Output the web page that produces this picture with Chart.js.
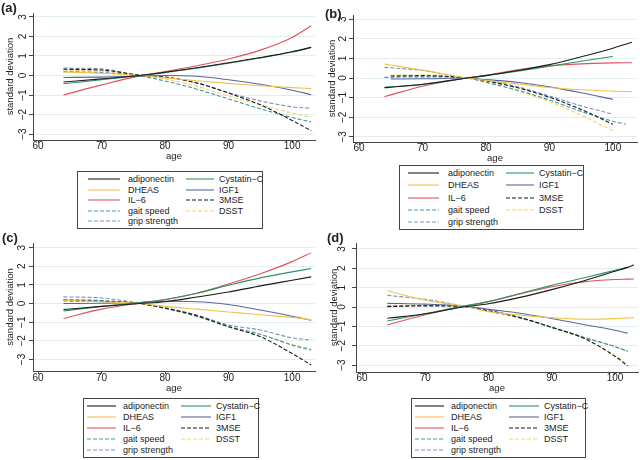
<!DOCTYPE html>
<html>
<head>
<meta charset="utf-8">
<script src="https://cdn.jsdelivr.net/npm/chart.js@4.4.0/dist/chart.umd.min.js"></script>
<style>
html,body{margin:0;padding:0;background:#fff;}
#wrap{position:relative;width:640px;height:460px;overflow:hidden;font-family:"Liberation Sans",Arial,sans-serif;color:#222;}
#wrap canvas{position:absolute;}
.tag{position:absolute;font-weight:bold;font-size:13px;line-height:13px;}
.legend{position:absolute;border:1px solid #444;box-sizing:border-box;background:#fff;}
.legend .it{position:absolute;font-size:9px;line-height:10px;white-space:nowrap;color:#222;}
.legend svg{position:absolute;overflow:visible;}
</style>
</head>
<body>
<div id="wrap"></div>
<script>
/* series shared by all four panels (legend order, row by row) */
const seriesNames  = ['adiponectin', 'Cystatin\u2212C', 'DHEAS', 'IGF1', 'IL\u22126', '3MSE', 'gait speed', 'DSST', 'grip strength'];
const seriesColors = ['#1b1b1b', '#2f9468', '#f0c44c', '#56679e', '#e2525c', '#1b1b1b', '#3e9aa0', '#f3d36a', '#7b8fbf'];
const seriesDashed = [false, false, false, false, false, true, true, true, true];

const xTicks = [60, 70, 80, 90, 100];
const yTicks = [-3, -2, -1, 0, 1, 2, 3];

/* panel (a) */
const agesA        = [64, 70, 76, 80, 85, 90, 95, 100, 103];
const adiponectinA = [-0.33, -0.17, 0.0, 0.17, 0.4, 0.65, 0.92, 1.22, 1.44];
const cystatinA    = [-0.42, -0.22, 0.0, 0.15, 0.38, 0.63, 0.9, 1.2, 1.43];
const dheasA       = [0.18, 0.12, 0.0, -0.12, -0.27, -0.4, -0.52, -0.62, -0.67];
const igf1A        = [-0.1, -0.08, -0.03, 0.0, -0.04, -0.22, -0.45, -0.75, -0.98];
const il6A         = [-1.0, -0.48, -0.02, 0.2, 0.5, 0.85, 1.3, 1.95, 2.55];
const mseA         = [0.32, 0.28, 0.02, -0.08, -0.38, -0.9, -1.5, -2.3, -2.83];
const gaitA        = [0.2, 0.15, -0.02, -0.28, -0.7, -1.2, -1.7, -2.15, -2.38];
const dsstA        = [0.28, 0.22, 0.0, -0.18, -0.55, -1.05, -1.5, -1.92, -2.14];
const gripA        = [0.38, 0.34, 0.0, -0.08, -0.38, -0.88, -1.3, -1.6, -1.68];

/* panel (b) */
const agesB        = [64, 65, 70, 77, 80, 85, 90, 95, 100, 102, 103];
const adiponectinB = [-0.5, -0.47, -0.33, 0.0, 0.12, 0.38, 0.68, 1.08, 1.52, 1.72, 1.82];
const cystatinB    = [-0.47, -0.45, -0.32, 0.0, 0.12, 0.35, 0.6, 0.85, 1.1, null, null];
const dheasB       = [0.71, 0.66, 0.4, 0.0, -0.12, -0.3, -0.48, -0.6, -0.67, -0.69, -0.7];
const igf1B        = [null, -0.05, -0.04, 0.0, -0.08, -0.22, -0.45, -0.75, -1.09, null, null];
const il6B         = [-0.95, -0.86, -0.42, 0.0, 0.14, 0.42, 0.62, 0.72, 0.77, 0.78, 0.78];
const mseB         = [null, 0.1, 0.12, 0.0, -0.15, -0.5, -0.98, -1.6, -2.36, null, null];
const gaitB        = [0.03, 0.04, 0.06, 0.0, -0.22, -0.62, -1.12, -1.7, -2.2, -2.35, null];
const dsstB        = [null, 0.15, 0.15, 0.0, -0.22, -0.65, -1.2, -1.9, -2.69, null, null];
const gripB        = [0.54, 0.52, 0.38, 0.0, -0.12, -0.45, -0.92, -1.42, -1.85, null, null];

/* panel (c) */
const agesC        = [64, 70, 76, 80, 85, 90, 95, 100, 103];
const adiponectinC = [-0.32, -0.15, 0.0, 0.1, 0.35, 0.62, 0.95, 1.25, 1.43];
const cystatinC    = [-0.4, -0.15, 0.05, 0.22, 0.55, 0.98, 1.38, 1.7, 1.88];
const dheasC       = [0.18, 0.1, 0.0, -0.15, -0.3, -0.45, -0.6, -0.75, -0.86];
const igf1C        = [0.0, 0.02, 0.06, 0.12, 0.1, -0.05, -0.35, -0.68, -0.9];
const il6C         = [-0.8, -0.3, 0.02, 0.2, 0.55, 1.05, 1.6, 2.25, 2.72];
const mseC         = [0.15, 0.12, 0.0, -0.25, -0.65, -1.25, -1.78, -2.68, -3.3];
const gaitC        = [0.22, 0.16, 0.0, -0.25, -0.68, -1.22, -1.65, -2.23, -2.5];
const dsstC        = [0.2, 0.15, 0.0, -0.28, -0.7, -1.25, -1.65, -2.2, -2.42];
const gripC        = [0.36, 0.3, 0.02, -0.22, -0.62, -1.15, -1.42, -1.84, -1.96];

/* panel (d) */
const agesD        = [64, 70, 76, 80, 85, 90, 95, 100, 102, 103];
const adiponectinD = [-0.58, -0.35, 0.0, 0.17, 0.5, 0.9, 1.35, 1.85, 2.05, 2.17];
const cystatinD    = [-0.72, -0.35, 0.05, 0.28, 0.7, 1.12, 1.5, 1.9, 2.06, null];
const dheasD       = [0.84, 0.35, 0.05, -0.24, -0.42, -0.55, -0.63, -0.6, -0.56, -0.55];
const igf1D        = [0.19, 0.15, 0.05, -0.12, -0.32, -0.59, -0.9, -1.2, -1.36, null];
const il6D         = [-0.93, -0.4, 0.03, 0.28, 0.68, 1.05, 1.3, 1.42, 1.44, 1.45];
const mseD         = [0.02, 0.06, 0.03, -0.2, -0.55, -1.05, -1.6, -2.55, -3.05, null];
const gaitD        = [0.05, 0.08, 0.02, -0.2, -0.55, -1.05, -1.58, -2.05, -2.3, null];
const dsstD        = [0.08, 0.1, 0.03, -0.22, -0.58, -1.08, -1.62, -2.5, -2.98, null];
const gripD        = [0.6, 0.4, 0.05, -0.15, -0.55, -1.05, -1.55, -2.05, -2.28, null];

const FONT = '"Liberation Sans", Arial, sans-serif';

/* layout of each panel: canvas box, plot area inside canvas, axis ranges, legend box */
const panels = [
  { tag:'(a)', tagPos:[1, 1], ages:agesA,
    values:[adiponectinA, cystatinA, dheasA, igf1A, il6A, mseA, gaitA, dsstA, gripA],
    box:{x:0, y:0, w:320, h:162}, area:{l:33, t:13, r:315, b:140},
    xr:[59.2, 103.6], yr:[-3.3, 3.2], yLab:10, yTitlePad:4.6, xLabPad:-2.3,
    legend:{x:77, y:171, w:186, h:58, c1:[10, 42, 50], c2:[108, 136, 141]} },
  { tag:'(b)', tagPos:[325, 6.5], ages:agesB,
    values:[adiponectinB, cystatinB, dheasB, igf1B, il6B, mseB, gaitB, dsstB, gripB],
    box:{x:320, y:0, w:320, h:164}, area:{l:33, t:15, r:317, b:142},
    xr:[59.05, 103.8], yr:[-3.26, 3.21], yLab:10, yTitlePad:6.3, xLabPad:-2.7,
    legend:{x:399, y:165, w:185, h:65, c1:[8, 39, 48], c2:[106, 134, 139]} },
  { tag:'(c)', tagPos:[2, 230.5], ages:agesC,
    values:[adiponectinC, cystatinC, dheasC, igf1C, il6C, mseC, gaitC, dsstC, gripC],
    box:{x:0, y:230, w:320, h:164}, area:{l:33, t:13, r:315, b:141},
    xr:[59.2, 103.6], yr:[-3.62, 3.25], yLab:10.3, yTitlePad:4.6, xLabPad:-2,
    legend:{x:83, y:398, w:176, h:60, c1:[3, 32, 39], c2:[97, 127, 132]} },
  { tag:'(d)', tagPos:[327, 230.5], ages:agesD,
    values:[adiponectinD, cystatinD, dheasD, igf1D, il6D, mseD, gaitD, dsstD, gripD],
    box:{x:320, y:230, w:320, h:164}, area:{l:36, t:13, r:318, b:142},
    xr:[59.05, 103.64], yr:[-3.36, 3.31], yLab:13.3, yTitlePad:8.6, xLabPad:-3,
    legend:{x:411, y:398, w:175, h:60, c1:[3, 32, 39], c2:[97, 127, 132]} }
];

function fmtY(v){ return v < 0 ? '\u2212' + Math.abs(v) : String(v); }

/* y tick labels are rotated (reading upwards), so they are drawn here from the y scale */
const yLabelPlugin = {
  id: 'yLabels',
  afterDraw(chart, args, opts){
    const s = chart.scales.y, ctx = chart.ctx;
    ctx.save();
    ctx.font = '10px ' + FONT;
    ctx.fillStyle = '#222';
    ctx.textAlign = 'center';
    ctx.textBaseline = 'middle';
    s.ticks.forEach(t => {
      const y = s.getPixelForValue(t.value);
      ctx.save();
      ctx.translate(chart.chartArea.left - opts.offset, y);
      ctx.rotate(-Math.PI / 2);
      ctx.fillText(fmtY(t.value), 0, 0);
      ctx.restore();
    });
    ctx.restore();
  }
};

const wrap = document.getElementById('wrap');

function buildLegend(p){
  const L = p.legend;
  const div = document.createElement('div');
  div.className = 'legend';
  Object.assign(div.style, {left:L.x+'px', top:L.y+'px', width:L.w+'px', height:L.h+'px'});
  const pad = 7, step = (L.h - 2 - 2*pad) / 4;
  seriesNames.forEach((name, i) => {
    const row = Math.floor(i / 2), col = i % 2 ? L.c2 : L.c1;
    const cy = pad + row * step;
    const len = col[1] - col[0];
    const svg = document.createElementNS('http://www.w3.org/2000/svg', 'svg');
    svg.setAttribute('width', len); svg.setAttribute('height', 2);
    svg.style.left = col[0] + 'px'; svg.style.top = (cy - 1) + 'px';
    const ln = document.createElementNS('http://www.w3.org/2000/svg', 'line');
    ln.setAttribute('x1', 0); ln.setAttribute('y1', 1); ln.setAttribute('x2', len); ln.setAttribute('y2', 1);
    ln.setAttribute('stroke', seriesColors[i]); ln.setAttribute('stroke-width', 1.1);
    if (seriesDashed[i]) ln.setAttribute('stroke-dasharray', '4 2');
    svg.appendChild(ln);
    div.appendChild(svg);
    const t = document.createElement('div');
    t.className = 'it';
    t.textContent = name;
    t.style.left = col[2] + 'px'; t.style.top = (cy - 5) + 'px';
    div.appendChild(t);
  });
  wrap.appendChild(div);
}

function buildPanel(p){
  const cv = document.createElement('canvas');
  cv.width = p.box.w; cv.height = p.box.h;
  Object.assign(cv.style, {left:p.box.x+'px', top:p.box.y+'px', width:p.box.w+'px', height:p.box.h+'px'});
  wrap.appendChild(cv);

  const datasets = seriesNames.map((name, i) => ({
    label: name,
    data: p.ages.map((a, k) => ({x:a, y:p.values[i][k]})).filter(pt => pt.y !== null),
    borderColor: seriesColors[i],
    borderWidth: 1.1,
    borderDash: seriesDashed[i] ? [4, 2] : [],
    pointRadius: 0,
    fill: false,
    cubicInterpolationMode: 'monotone'
  }));

  new Chart(cv.getContext('2d'), {
    type: 'line',
    data: { datasets },
    plugins: [yLabelPlugin],
    options: {
      responsive: false,
      animation: false,
      events: [],
      layout: { padding: { left:0, top:p.area.t, right:p.box.w - p.area.r, bottom:0 } },
      scales: {
        x: {
          type: 'linear', min: p.xr[0], max: p.xr[1], offset: false,
          afterBuildTicks: s => { s.ticks = xTicks.map(v => ({value:v})); },
          afterFit: s => { s.height = p.box.h - p.area.b; },
          grid: { drawOnChartArea: false, drawTicks: true, tickLength: 3, color: '#444' },
          border: { display: true, color: '#444', width: 1 },
          ticks: { color: '#222', padding: p.xLabPad, font: { family: FONT, size: 10 }, maxRotation: 0 },
          title: { display: true, text: 'age', color: '#222', padding: {top:0, bottom:0}, font: { family: FONT, size: 9.5 } }
        },
        y: {
          type: 'linear', min: p.yr[0], max: p.yr[1],
          afterBuildTicks: s => { s.ticks = yTicks.map(v => ({value:v})); },
          afterFit: s => { s.width = p.area.l; },
          grid: { color: '#e2edf0', lineWidth: 1, drawTicks: true, tickLength: 4, tickColor: '#444' },
          border: { display: true, color: '#444', width: 1 },
          ticks: { display: false },
          title: { display: true, text: 'standard deviation', color: '#222', padding: {top:p.yTitlePad, bottom:0}, font: { family: FONT, size: 9.5 } }
        }
      },
      plugins: {
        legend: { display: false },
        tooltip: { enabled: false },
        yLabels: { offset: p.yLab }
      }
    }
  });

  const tag = document.createElement('div');
  tag.className = 'tag';
  tag.textContent = p.tag;
  tag.style.left = p.tagPos[0] + 'px';
  tag.style.top = p.tagPos[1] + 'px';
  wrap.appendChild(tag);

  buildLegend(p);
}

panels.forEach(buildPanel);
</script>
</body>
</html>
